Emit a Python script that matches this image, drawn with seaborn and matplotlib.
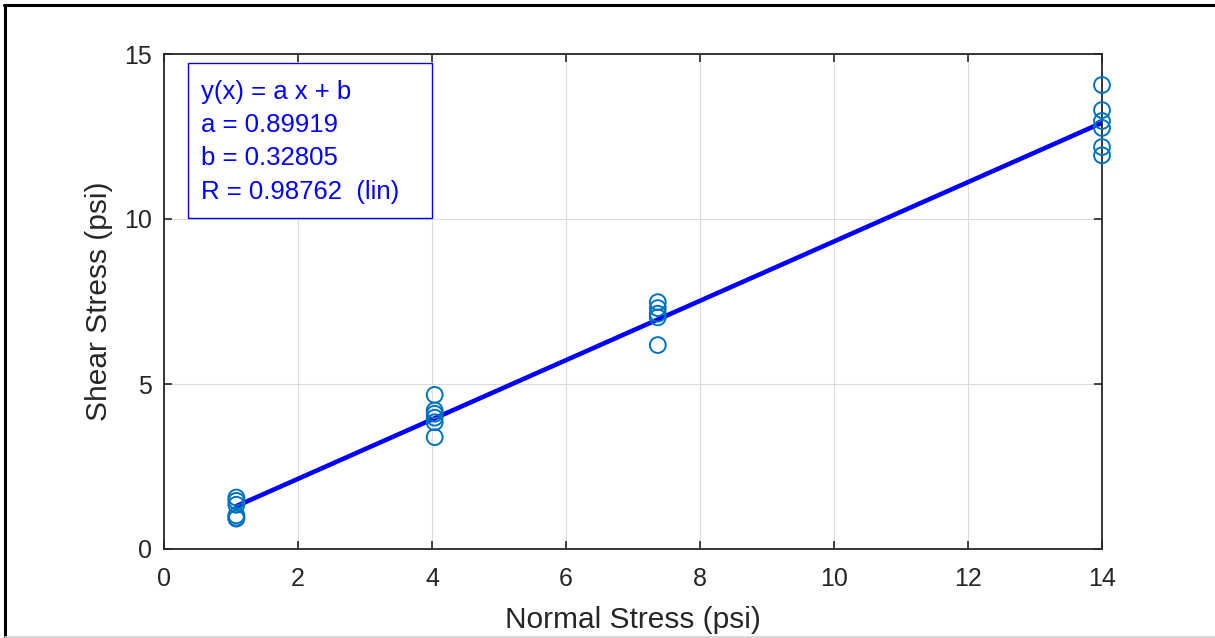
import matplotlib
matplotlib.use("Agg")
import matplotlib.pyplot as plt
from matplotlib.lines import Line2D
from matplotlib.patches import Rectangle
import numpy as np
import pandas as pd
import seaborn as sns

# Direct shear test results: normal stress vs. shear stress at failure
normal_stress = [1.08, 1.08, 1.08, 1.08, 1.08, 1.08,
                 4.04, 4.04, 4.04, 4.04, 4.04, 4.04,
                 7.37, 7.37, 7.37, 7.37, 7.37,
                 14.0, 14.0, 14.0, 14.0, 14.0, 14.0]
shear_stress = [1.56, 1.46, 1.34, 1.02, 0.95, 0.92,
                4.67, 4.20, 4.10, 3.98, 3.84, 3.39,
                7.48, 7.30, 7.13, 7.02, 6.18,
                14.06, 13.30, 12.97, 12.76, 12.18, 11.93]

# Linear fit parameters
fit_a = 0.89919
fit_b = 0.32805
fit_r = 0.98762

x_ticks = [0, 2, 4, 6, 8, 10, 12, 14]
y_ticks = [0, 5, 10, 15]

df = pd.DataFrame({"Normal Stress (psi)": normal_stress,
                   "Shear Stress (psi)": shear_stress})

sns.set_theme(style="white")
plt.rcParams["font.family"] = ["Liberation Sans", "DejaVu Sans"]

fig = plt.figure(figsize=(12.15, 6.38), dpi=100)
ax = fig.add_axes([164 / 1215, 89 / 638, 938 / 1215, 495 / 638])

# Fitted line across the measured range
xf = np.array([min(normal_stress), max(normal_stress)])
yf = fit_a * xf + fit_b
sns.lineplot(x=xf, y=yf, ax=ax, color=(0, 0, 1), linewidth=3.3, zorder=3)

# Measurements as open circles
sns.scatterplot(data=df, x="Normal Stress (psi)", y="Shear Stress (psi)", ax=ax,
                marker="o", s=130, facecolors="none", edgecolor="#0072BD",
                linewidth=1.4, zorder=4, clip_on=False)

ax.set_xlim(0, 14)
ax.set_ylim(0, 15)
ax.set_xticks(x_ticks)
ax.set_yticks(y_ticks)
ax.tick_params(direction="in", length=6, width=1.2, labelsize=18,
               colors="#262626", top=True, right=True, bottom=True, left=True,
               labeltop=False, labelright=False)
ax.tick_params(axis="x", pad=13)
ax.tick_params(axis="y", pad=9)
ax.grid(True, color="#dcdcdc", linewidth=0.8)
for sp in ax.spines.values():
    sp.set_visible(True)
    sp.set_color("#262626")
    sp.set_linewidth(1.3)
ax.set_xlabel("Normal Stress (psi)", fontsize=21.5, color="#262626", labelpad=11)
ax.set_ylabel("Shear Stress (psi)", fontsize=21.5, color="#262626", labelpad=8)

# Fit summary box
ax.add_patch(Rectangle((0.0256, 0.669), 0.2601, 0.313, transform=ax.transAxes,
                       facecolor="white", edgecolor=(0, 0, 1), linewidth=1.0,
                       zorder=5))
txt = ("y(x) = a x + b\n"
       f"a = {fit_a:.5f}\n"
       f"b = {fit_b:.5f}\n"
       f"R = {fit_r:.5f}  (lin)")
ax.text(0.039, 0.947, txt, transform=ax.transAxes, ha="left", va="top",
        fontsize=18.5, color=(0, 0, 1), linespacing=1.48, zorder=6)

# Window frame
fig.add_artist(Line2D([4 / 1215, 1.0], [1 - 4.5 / 638, 1 - 4.5 / 638],
                      transform=fig.transFigure, color="black", linewidth=2.2))
fig.add_artist(Line2D([5 / 1215, 5 / 1215], [0, 1 - 4.5 / 638],
                      transform=fig.transFigure, color="black", linewidth=2.2))
fig.add_artist(Line2D([5 / 1215, 1.0], [1.5 / 638, 1.5 / 638],
                      transform=fig.transFigure, color="#d0d0d0", linewidth=1.2))

fig.savefig("out.png", dpi=100, facecolor="white")
